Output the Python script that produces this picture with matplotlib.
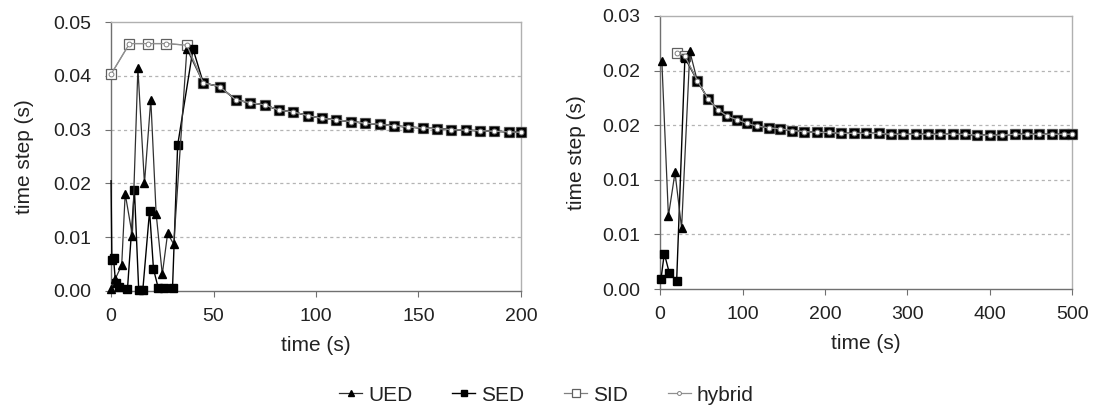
import matplotlib
matplotlib.use("Agg")
import matplotlib.pyplot as plt
from matplotlib.ticker import FormatStrFormatter
import numpy as np

plt.rcParams['font.family'] = ['Liberation Sans', 'DejaVu Sans']

# ---------------- Left panel data (0-200 s) ----------------
tail_t_L = [45, 53, 61, 68, 75, 82, 89, 96, 103, 110, 117, 124, 131, 138, 145,
            152, 159, 166, 173, 180, 187, 194, 200]
tail_v_L = [0.0387, 0.0380, 0.0355, 0.0350, 0.0346, 0.0336, 0.0333, 0.0326, 0.0321,
            0.0318, 0.0315, 0.0312, 0.0310, 0.0307, 0.0305, 0.0303, 0.0302, 0.0300,
            0.0299, 0.0298, 0.0297, 0.0296, 0.0295]

ued_t_L = [0, 2, 5.2, 6.9, 10.4, 13.1, 16.3, 19.4, 22, 25, 27.6, 30.6, 37]
ued_v_L = [0.0004, 0.0022, 0.0048, 0.0181, 0.0103, 0.0414, 0.0200, 0.0356, 0.0144,
           0.0031, 0.0107, 0.0087, 0.0450]

sed_t_L = [0, 0.4, 1.2, 2.2, 4, 8, 11.4, 13.5, 15.5, 18.8, 20.7, 23, 26, 30, 32.5, 40]
sed_v_L = [0.0205, 0.0057, 0.0062, 0.0015, 0.0008, 0.0003, 0.0188, 0.0002, 0.0002,
           0.0149, 0.0041, 0.0006, 0.0006, 0.0006, 0.0271, 0.0450]

sid_t_L = [0, 9, 18, 27, 37]
sid_v_L = [0.0403, 0.0460, 0.0460, 0.0460, 0.0457]

hyb_t_L = [0, 9, 18, 27, 37]
hyb_v_L = [0.0403, 0.0460, 0.0460, 0.0460, 0.0457]

# ---------------- Right panel data (0-500 s) ----------------
tail_t_R = [45, 58, 70, 81, 93, 105, 118, 132, 146, 160, 175, 190, 205, 220, 235,
            250, 265, 280, 295, 310, 325, 340, 355, 370, 385, 400, 415, 430, 445,
            460, 475, 490, 500]
tail_v_R = [0.0229, 0.0209, 0.0197, 0.0190, 0.0186, 0.0182, 0.0179, 0.0177, 0.0176,
            0.0174, 0.0173, 0.0172, 0.0172, 0.0171, 0.0171, 0.0171, 0.0171, 0.0170,
            0.0170, 0.0170, 0.0170, 0.0170, 0.0170, 0.0170, 0.0169, 0.0169, 0.0169,
            0.0170, 0.0170, 0.0170, 0.0170, 0.0170, 0.0170]

ued_t_R = [2, 10, 18, 26, 36]
ued_v_R = [0.0251, 0.0080, 0.0128, 0.0067, 0.0261]

sed_t_R = [1, 5, 11, 20, 30]
sed_v_R = [0.0011, 0.0039, 0.0018, 0.0009, 0.0254]

sid_t_R = [21, 30]
sid_v_R = [0.0259, 0.0256]

hyb_t_R = [21, 30]
hyb_v_R = [0.0259, 0.0256]

labels = ['UED', 'SED', 'SID', 'hybrid']

styles = {
    'UED': dict(color='#303030', lw=0.9, marker='^', ms=6, mfc='black', mec='black', zorder=5),
    'SED': dict(color='black', lw=1.0, marker='s', ms=5.5, mfc='black', mec='black', zorder=4),
    'SID': dict(color='#808080', lw=0.9, marker='s', ms=6.5, mfc='white', mec='#606060', mew=0.9, zorder=3),
    'hybrid': dict(color='#909090', lw=0.9, marker='o', ms=3.5, mfc='white', mec='#808080', mew=0.7, zorder=6),
}

fig = plt.figure(figsize=(10.93, 4.15), dpi=100)
axL = fig.add_axes([0.1016, 0.2988, 0.375, 0.648])
axR = fig.add_axes([0.604, 0.3036, 0.377, 0.658])


def style_axes(ax, xmax, xstep, ymax, yticks, ylabelpad):
    ax.set_xlim(0, xmax)
    ax.set_ylim(0, ymax)
    ax.set_xticks(np.arange(0, xmax + 0.1, xstep))
    ax.set_yticks(yticks)
    ax.yaxis.set_major_formatter(FormatStrFormatter('%.2f'))
    for y in yticks[1:-1]:
        ax.axhline(y, color='#b4b4b4', lw=0.9, ls=(0, (2.5, 2.5)), zorder=0)
    for s in ['top', 'right']:
        ax.spines[s].set_color('#b0b0b0')
        ax.spines[s].set_linewidth(1.0)
    for s in ['left', 'bottom']:
        ax.spines[s].set_color('#707070')
        ax.spines[s].set_linewidth(1.0)
    ax.tick_params(axis='y', direction='out', length=4, color='#707070',
                   labelsize=14, labelcolor='#222222', pad=10)
    ax.tick_params(axis='x', direction='out', length=4, color='#707070',
                   labelsize=14, labelcolor='#222222', pad=8)
    ax.set_xlabel('time (s)', fontsize=15, color='#222222', labelpad=8)
    ax.set_ylabel('time step (s)', fontsize=15, color='#222222', labelpad=ylabelpad)


def draw(ax, series):
    handles = []
    for name, (t, v, markevery) in series.items():
        h, = ax.plot(t, v, markevery=markevery, label=name, clip_on=False,
                     **styles[name])
        handles.append(h)
    return handles


seriesL = {
    'UED': (ued_t_L + tail_t_L, ued_v_L + tail_v_L, None),
    'SED': (sed_t_L + tail_t_L, sed_v_L + tail_v_L,
            list(range(1, len(sed_t_L) + len(tail_t_L)))),
    'SID': (sid_t_L + tail_t_L, sid_v_L + tail_v_L, None),
    'hybrid': (hyb_t_L + tail_t_L, hyb_v_L + tail_v_L, None),
}
seriesR = {
    'UED': (ued_t_R + tail_t_R, ued_v_R + tail_v_R, None),
    'SED': (sed_t_R + tail_t_R, sed_v_R + tail_v_R, None),
    'SID': (sid_t_R + tail_t_R, sid_v_R + tail_v_R, None),
    'hybrid': (hyb_t_R + tail_t_R, hyb_v_R + tail_v_R, None),
}

handles = draw(axL, seriesL)
draw(axR, seriesR)

style_axes(axL, 200, 50, 0.05, list(np.round(np.arange(0, 0.0501, 0.01), 3)), 14)
style_axes(axR, 500, 100, 0.03, list(np.arange(0, 0.0301, 0.006)), 12)

leg = fig.legend(handles, labels, loc='center', bbox_to_anchor=(0.5, 0.048),
                 ncol=4, frameon=False, fontsize=15, handlelength=1.1,
                 handletextpad=0.3, columnspacing=1.9, markerscale=0.8)
for txt in leg.get_texts():
    txt.set_color('#222222')

fig.savefig('out.png', dpi=100)
